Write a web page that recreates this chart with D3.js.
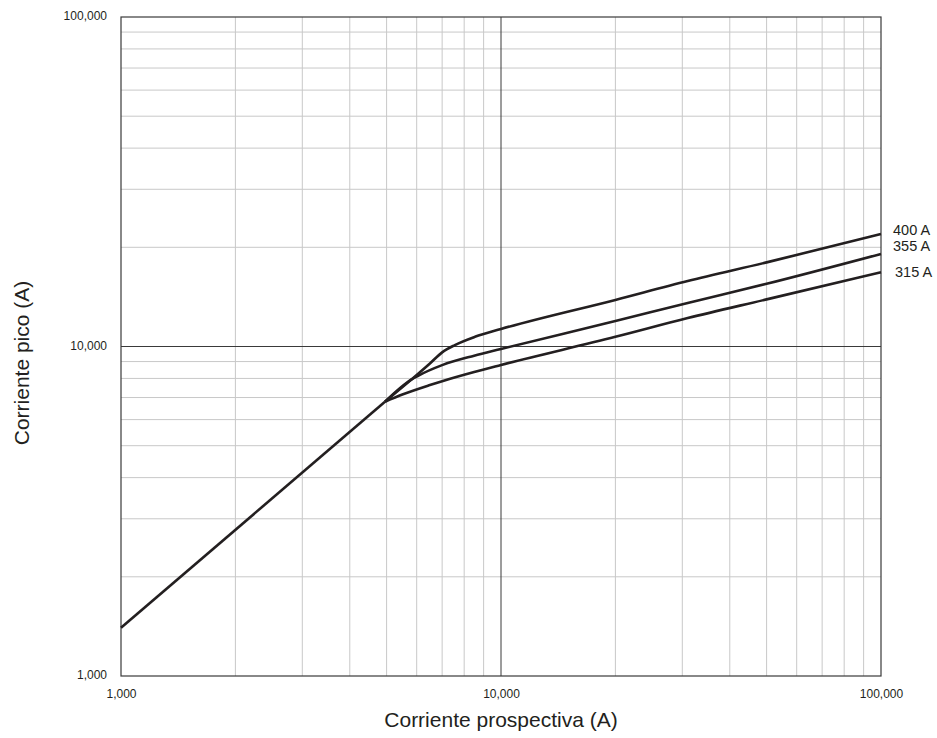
<!DOCTYPE html>
<html>
<head>
<meta charset="utf-8">
<script src="https://cdn.jsdelivr.net/npm/d3@7"></script>
<style>
body{margin:0;background:#fff;}
svg text{font-family:"Liberation Sans",Arial,sans-serif;fill:#231f20;}
</style>
</head>
<body>
<svg id="chart" width="937" height="738"></svg>
<script>
/*
 * Corriente pico vs corriente prospectiva
 */

// common rising part (no limitation)
var base = [[1000, 1400], [4950, 6800]];

var c315 = [[4950, 6800], [5500, 7150], [6500, 7640], [7000, 7850], [8500, 8370], [10000, 8790],
            [20000, 10700], [31000, 12200], [50000, 13900], [100000, 16800]];
var c355 = [[4950, 6800], [5820, 7950], [6050, 8150], [7000, 8780], [8500, 9380], [10000, 9830],
            [20000, 11950], [31000, 13550], [50000, 15500], [100000, 19100]];
var c400 = [[4950, 6800], [5820, 7950], [6500, 8880], [7000, 9600], [7560, 10100], [8540, 10700],
            [10000, 11300], [20000, 13850], [31000, 15800], [50000, 18000], [100000, 21950]];

var curves = [base, c315, c355, c400];
var labels = ['400 A', '355 A', '315 A'];
var labelY = [230, 246, 272];

var xTicks = [1000, 10000, 100000];
var yTicks = [1000, 10000, 100000];

var pLeft = 121, pRight = 881, pTop = 17, pBottom = 676;

var svg = d3.select('#chart');
var x = d3.scaleLog().domain([1000, 100000]).range([pLeft, pRight]);
var y = d3.scaleLog().domain([1000, 100000]).range([pBottom, pTop]);
var fmt = d3.format(',');

// minor grid
var minor = [];
for(var d = 1000; d < 100000; d *= 10)
{
    for(var k = 2; k <= 9; k++) minor.push(d * k);
}
svg.append('g').selectAll('line').data(minor).enter().append('line')
    .attr('x1', function(v){return x(v);}).attr('x2', function(v){return x(v);})
    .attr('y1', pTop).attr('y2', pBottom)
    .attr('stroke', '#c8c8c8').attr('stroke-width', 1);
svg.append('g').selectAll('line').data(minor).enter().append('line')
    .attr('y1', function(v){return y(v);}).attr('y2', function(v){return y(v);})
    .attr('x1', pLeft).attr('x2', pRight)
    .attr('stroke', '#c8c8c8').attr('stroke-width', 1);

// decade lines
svg.append('line').attr('x1', x(10000)).attr('x2', x(10000)).attr('y1', pTop).attr('y2', pBottom)
    .attr('stroke', '#3a3a3a').attr('stroke-width', 1);
svg.append('line').attr('y1', y(10000)).attr('y2', y(10000)).attr('x1', pLeft).attr('x2', pRight)
    .attr('stroke', '#3a3a3a').attr('stroke-width', 1);

svg.append('rect').attr('x', pLeft).attr('y', pTop)
    .attr('width', pRight - pLeft).attr('height', pBottom - pTop)
    .attr('fill', 'none').attr('stroke', '#3a3a3a').attr('stroke-width', 1.2);

// axes (labels only)
var xa = svg.append('g').attr('transform', 'translate(0,' + (pBottom + 10) + ')')
    .call(d3.axisBottom(x).tickValues(xTicks).tickFormat(fmt).tickSize(0));
var ya = svg.append('g').attr('transform', 'translate(' + (pLeft - 11) + ',-1)')
    .call(d3.axisLeft(y).tickValues(yTicks).tickFormat(fmt).tickSize(0));
[xa, ya].forEach(function(a){
    a.select('.domain').remove();
    a.selectAll('text').attr('font-size', 12).style('font-family', '"Liberation Sans",Arial,sans-serif')
        .attr('fill', '#333');
});

var line = d3.line()
    .x(function(p){return x(p[0]);})
    .y(function(p){return y(p[1]);})
    .curve(d3.curveMonotoneX);

svg.append('g').selectAll('path').data(curves).enter().append('path')
    .attr('d', line)
    .attr('fill', 'none')
    .attr('stroke', '#231f20')
    .attr('stroke-width', 2.6)
    .attr('stroke-linejoin', 'round');

svg.append('g').selectAll('text').data(labels).enter().append('text')
    .attr('x', function(l, i){return i === 2 ? 895 : 893;})
    .attr('y', function(l, i){return labelY[i];})
    .attr('dy', '0.35em')
    .attr('font-size', 14.5)
    .text(function(l){return l;});

svg.append('text').attr('x', (pLeft + pRight) / 2).attr('y', 727)
    .attr('text-anchor', 'middle').attr('font-size', 21)
    .text('Corriente prospectiva (A)');
svg.append('text').attr('transform', 'translate(29,363) rotate(-90)')
    .attr('text-anchor', 'middle').attr('font-size', 21)
    .text('Corriente pico (A)');
</script>
</body>
</html>
